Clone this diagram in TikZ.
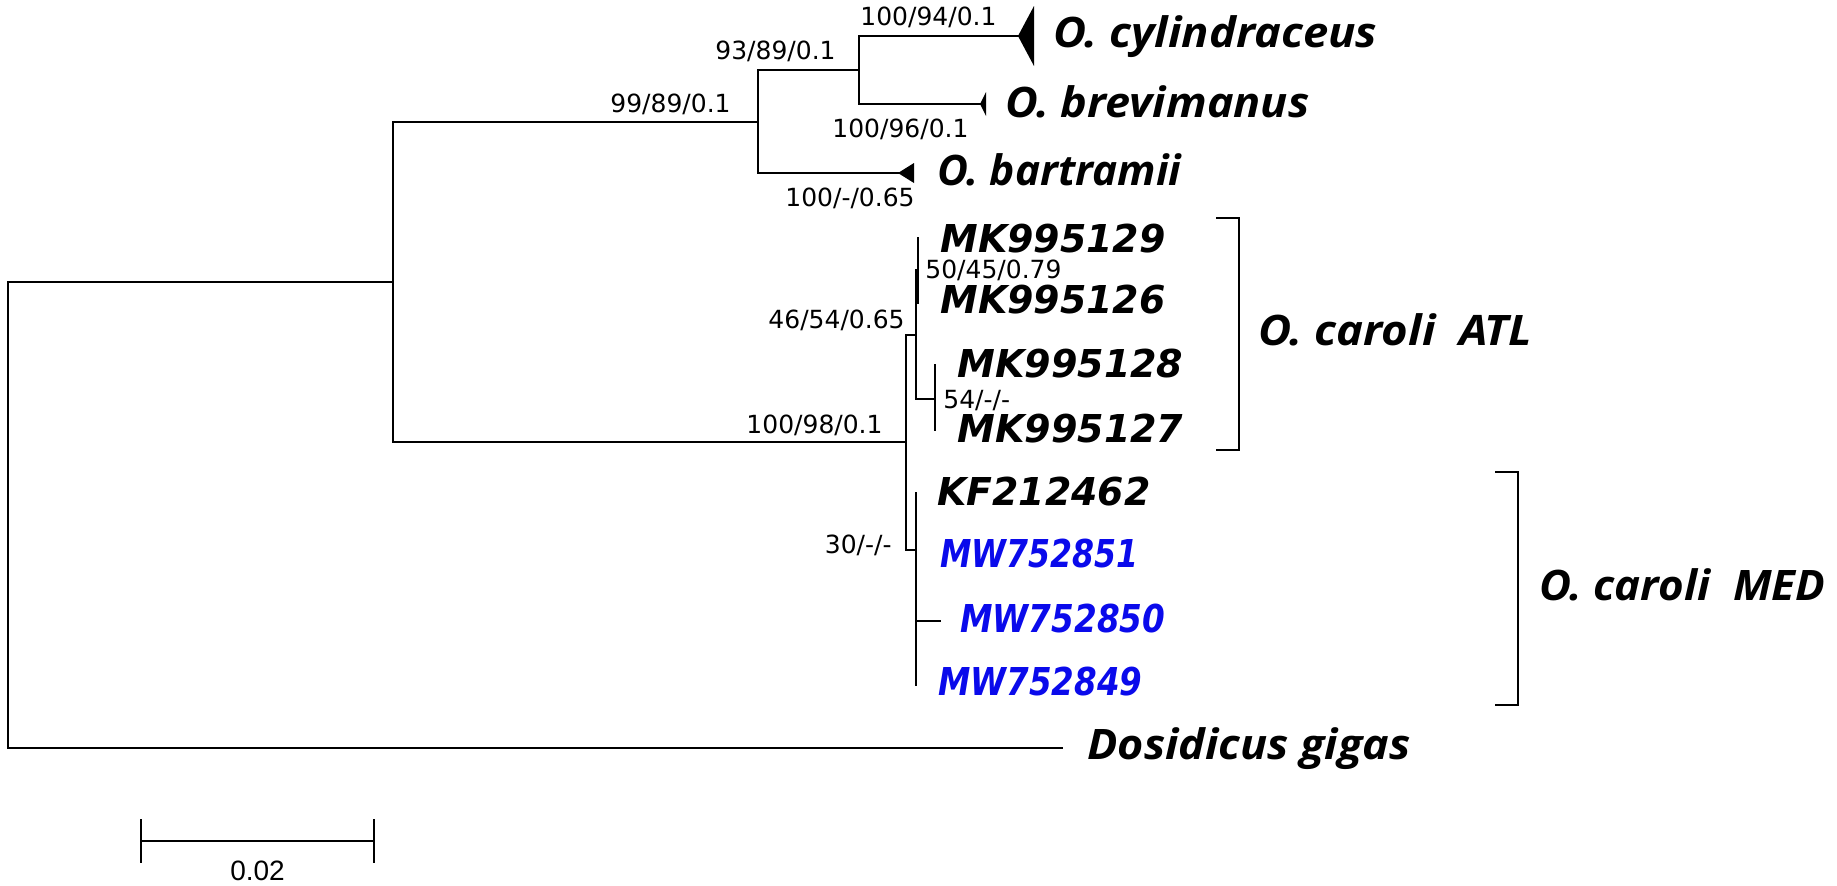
\documentclass[tikz,border=0pt]{standalone}
\usepackage{fontspec}
\setmainfont{DejaVu Sans}
\newfontfamily\supf{DejaVu Sans}
\newfontfamily\accf{DejaVu Sans}
\newfontfamily\spf{Open Sans}
\newfontfamily\barf{Liberation Sans}
\definecolor{accblue}{RGB}{10,10,235}
\newdimen\fitdim
\newcommand\fitw[2]{\sbox0{#2}\fitdim=\wd0\pgfmathsetmacro\fitsx{(#1)*0.5/\fitdim}\scalebox{\fitsx}[1]{\usebox0}}
\begin{document}
\begin{tikzpicture}[x=0.5pt,y=-0.5pt,
  tree/.style={line width=1.4pt, line cap=rect},
  sup/.style={inner sep=0pt, font=\supf\fontsize{12.5pt}{14pt}\selectfont},
  spname/.style={inner sep=0pt, font=\spf\bfseries\itshape\fontsize{21pt}{24pt}\selectfont},
  acc/.style={inner sep=0pt, font=\accf\bfseries\itshape\fontsize{19.2pt}{22pt}\selectfont},
  accb/.style={acc, text=accblue}]
\useasboundingbox (0,0) rectangle (1837,885);

% tree nodes
\coordinate (R) at (8,515);
\coordinate (A) at (393,282);
\coordinate (B) at (758,122);
\coordinate (C) at (859,70);
\coordinate (D) at (906,442);
\coordinate (E) at (916,335);
\coordinate (F) at (918,270);
\coordinate (G) at (935,399);
\coordinate (H) at (916,550);
% tips
\coordinate (tCyl) at (1018,36);
\coordinate (tBre) at (980,104);
\coordinate (tBar) at (898,173);
\coordinate (t29) at (918,238);
\coordinate (t26) at (918,303);
\coordinate (t28) at (935,365);
\coordinate (t27) at (935,430);
\coordinate (tKF) at (916,493);
\coordinate (t51) at (916,557);
\coordinate (t50) at (940,621);
\coordinate (t49) at (916,685);
\coordinate (tDos) at (1062,748);

% branches
\draw[tree] (R) |- (A);
\draw[tree] (R) |- (tDos);
\draw[tree] (A) |- (B);
\draw[tree] (A) |- (D);
\draw[tree] (B) |- (C);
\draw[tree] (B) |- (tBar);
\draw[tree] (C) |- (tCyl);
\draw[tree] (C) |- (tBre);
\draw[tree] (D) |- (E);
\draw[tree] (D) |- (H);
\draw[tree] (E) |- (F);
\draw[tree] (E) |- (G);
\draw[tree] (F) |- (t29);
\draw[tree] (F) |- (t26);
\draw[tree] (G) |- (t28);
\draw[tree] (G) |- (t27);
\draw[tree] (H) |- (tKF);
\draw[tree] (H) |- (t51);
\draw[tree] (H) |- (t50);
\draw[tree] (H) |- (t49);

% collapsed-clade triangles
\fill (tCyl) -- (1034,6) -- (1034,66) -- cycle;
\fill (tBre) -- (986,92) -- (986,116) -- cycle;
\fill (tBar) -- (914,163) -- (914,183) -- cycle;

% support values
\node[sup, anchor=base west] (s1) at (860,25) {100/94/0.1};
\node[sup, anchor=base west] (s2) at (715,59) {93/89/0.1};
\node[sup, anchor=base west] (s3) at (610,112) {99/89/0.1};
\node[sup, anchor=base west] (s4) at (832,137) {100/96/0.1};
\node[sup, anchor=base west] (s5) at (785,206) {100/-/0.65};
\node[sup, anchor=base west] (s6) at (925,278) {50/45/0.79};
\node[sup, anchor=base east] (s7) at (905,328) {46/54/0.65};
\node[sup, anchor=base west] (s8) at (943,408) {54/-/-};
\node[sup, anchor=base east] (s9) at (883,433) {100/98/0.1};
\node[sup, anchor=base east] (s10) at (892,553) {30/-/-};

% taxa
\node[spname, anchor=base west] (nCyl) at (1053,47) {\fitw{324}{O. cylindraceus}};
\node[spname, anchor=base west] (nBre) at (1005,117) {\fitw{304}{O. brevimanus}};
\node[spname, anchor=base west] (nBar) at (937,185) {\fitw{244}{O. bartramii}};
\node[acc, anchor=base west] (n29) at (940,252) {\fitw{225}{MK995129}};
\node[acc, anchor=base west] (n26) at (940,313) {\fitw{225}{MK995126}};
\node[acc, anchor=base west] (n28) at (957,377) {\fitw{226}{MK995128}};
\node[acc, anchor=base west] (n27) at (957,442) {\fitw{226}{MK995127}};
\node[acc, anchor=base west] (nKF) at (937,505) {\fitw{213}{KF212462}};
\node[accb, anchor=base west] (n51) at (940,567) {\fitw{198}{MW752851}};
\node[accb, anchor=base west] (n50) at (960,632) {\fitw{205}{MW752850}};
\node[accb, anchor=base west] (n49) at (938,695) {\fitw{204}{MW752849}};
\node[spname, anchor=base west] (nDos) at (1087,759) {\fitw{323}{Dosidicus gigas}};

% clade brackets
\draw[tree] (1217,218) -- (1239,218) -- (1239,450) -- (1217,450);
\draw[tree] (1496,472) -- (1518,472) -- (1518,705) -- (1496,705);
\node[spname, anchor=base west] (atl) at (1258,345) {\fitw{274}{O. caroli\ \ ATL}};
\node[spname, anchor=base west] (med) at (1539,600) {\fitw{286}{O. caroli\ \ MED}};

% scale bar
\coordinate (sbL) at (141,841);
\coordinate (sbR) at (374,841);
\draw[tree] (sbL) -- (sbR);
\draw[line width=1.4pt] ([yshift=11pt]sbL) -- ([yshift=-11pt]sbL);
\draw[line width=1.4pt] ([yshift=11pt]sbR) -- ([yshift=-11pt]sbR);
\node[inner sep=0pt, anchor=base, font=\barf\fontsize{14pt}{16pt}\selectfont] (sbt) at (257.5,880) {0.02};
\end{tikzpicture}
\end{document}
